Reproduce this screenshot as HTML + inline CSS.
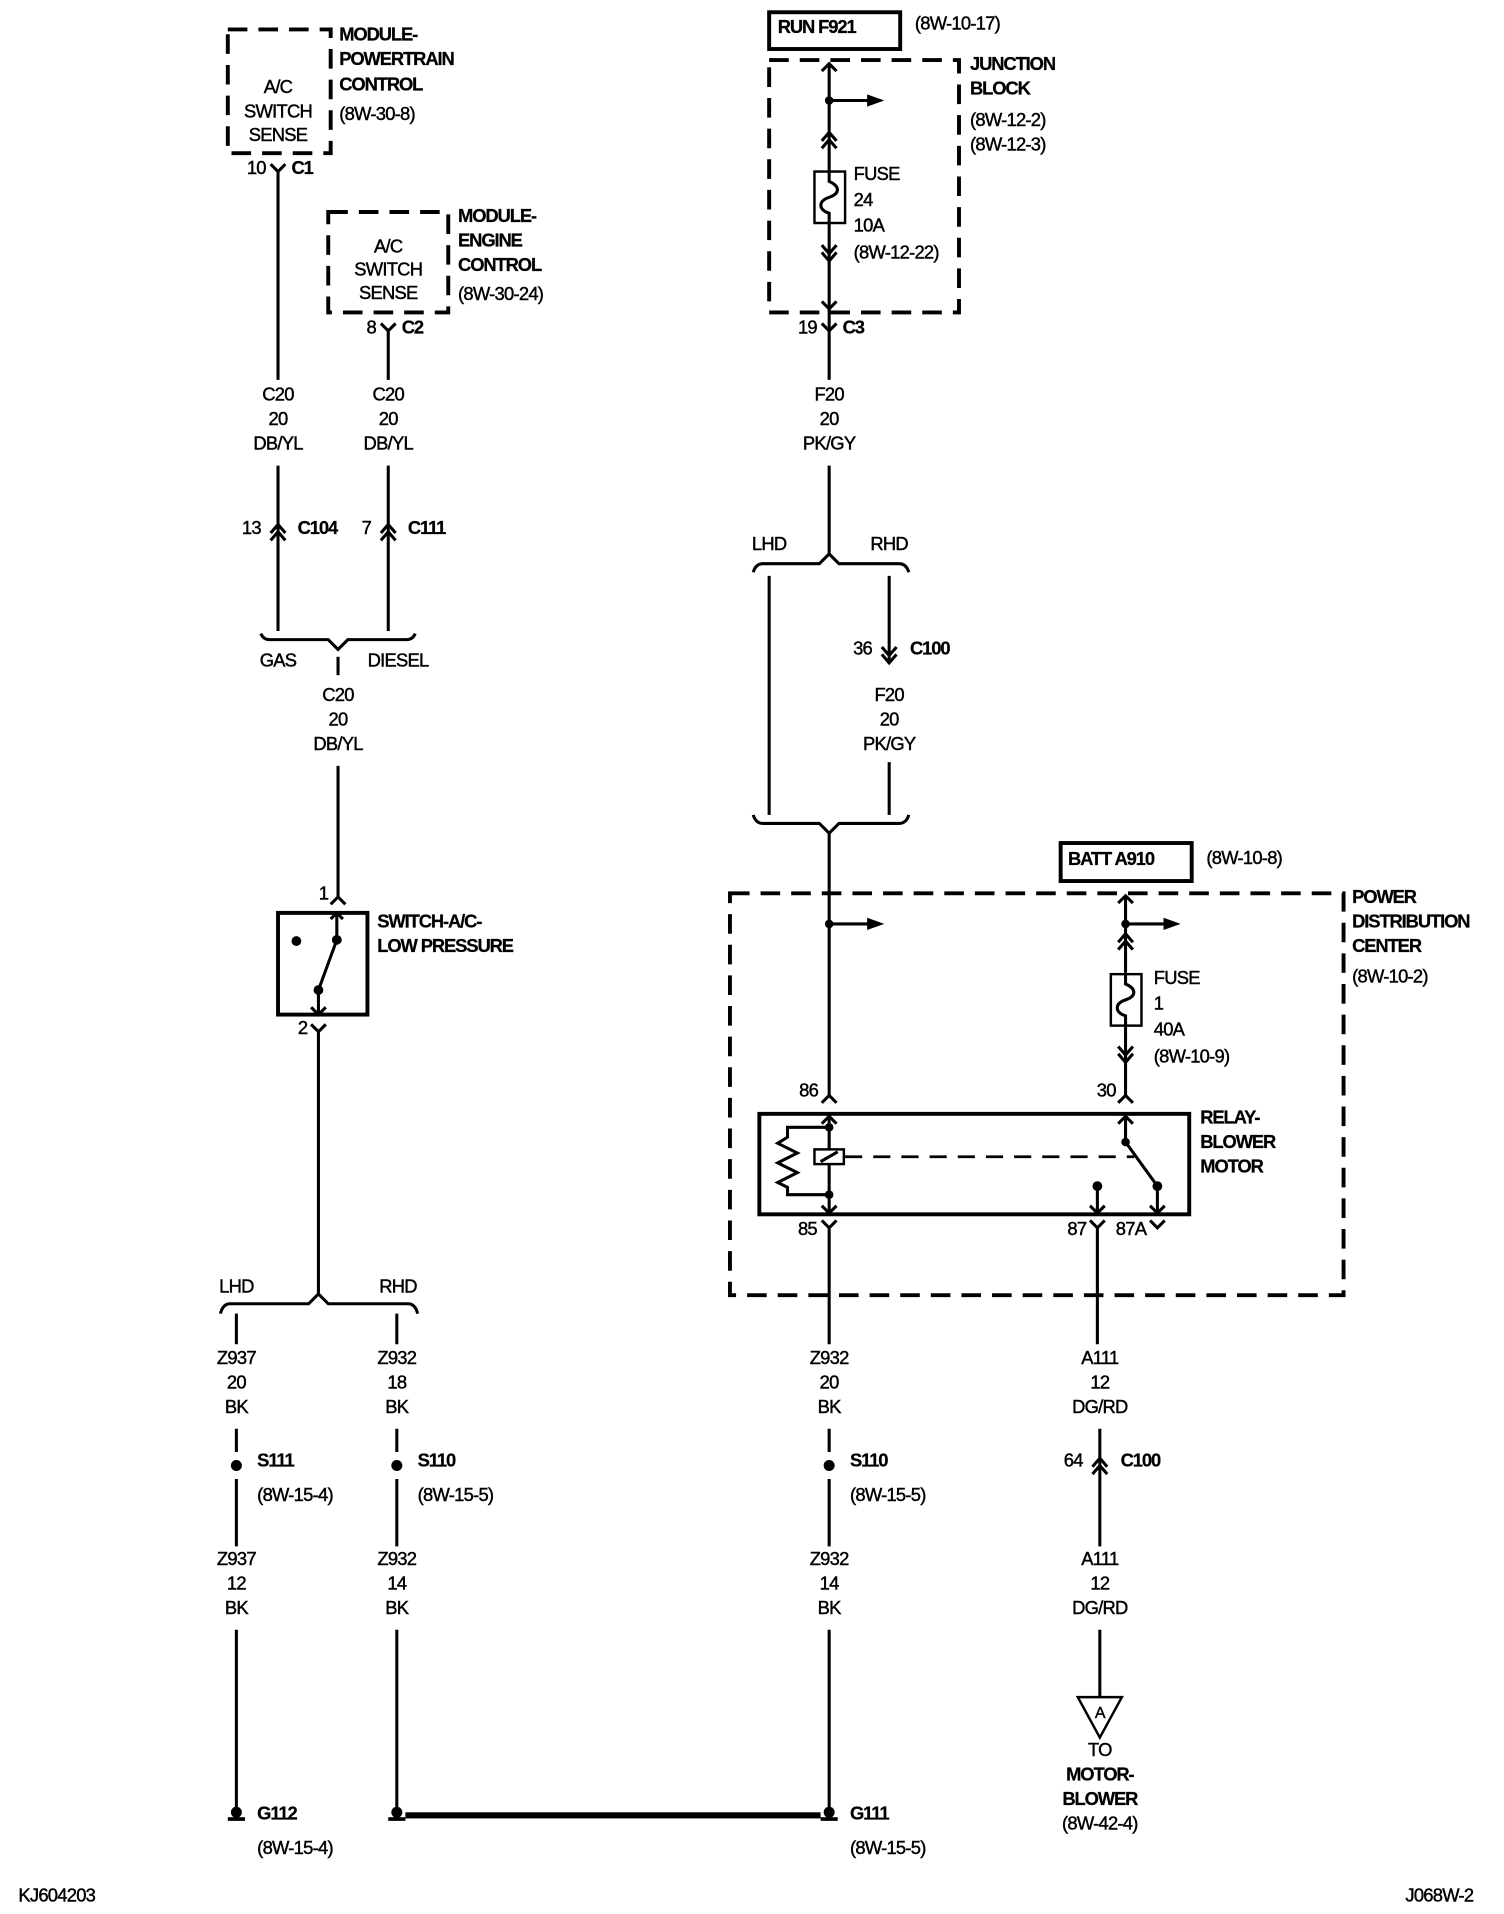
<!DOCTYPE html>
<html><head><meta charset="utf-8"><style>
html,body{margin:0;padding:0;background:#fff;}
svg{display:block;}
text{font-family:"Liberation Sans Narrow","Liberation Sans",sans-serif;font-size:15px;fill:#000;letter-spacing:-0.6px;stroke:#000;stroke-width:0.35px;transform:translate(0px,-4px);}
.b{font-weight:bold;letter-spacing:-0.9px;stroke-width:0.2px;}
.c{text-anchor:middle;}
.e{text-anchor:end;}
.w{stroke:#000;stroke-width:2.5;fill:none;}
.bx{stroke:#000;stroke-width:3.2;fill:none;}
.d{stroke:#000;stroke-width:3.2;fill:none;stroke-dasharray:16 9;}
.dl{stroke:#000;stroke-width:2.2;fill:none;stroke-dasharray:14 9;}
</style></head><body>
<svg width="1504" height="1914" viewBox="0 0 1228 1562" preserveAspectRatio="none" xmlns="http://www.w3.org/2000/svg">
<rect x="0" y="0" width="1228" height="1562" fill="#fff"/>

<!-- PCM -->
<rect class="d" x="186" y="24" width="84" height="101"/>
<text class="c" x="227" y="80">A/C</text>
<text class="c" x="227" y="100">SWITCH</text>
<text class="c" x="227" y="119">SENSE</text>
<text class="b" x="277" y="37">MODULE-</text>
<text class="b" x="277" y="57">POWERTRAIN</text>
<text class="b" x="277" y="78">CONTROL</text>
<text x="277" y="102">(8W-30-8)</text>
<path class="w" d="M221 134 L227 140 L233 134 M227 140 L227 310"/>
<text class="e" x="217" y="146">10</text><text class="b" x="238" y="146">C1</text>

<!-- ECM -->
<rect class="d" x="268" y="173" width="98" height="82"/>
<text class="c" x="317" y="210">A/C</text>
<text class="c" x="317" y="229">SWITCH</text>
<text class="c" x="317" y="248">SENSE</text>
<text class="b" x="374" y="185">MODULE-</text>
<text class="b" x="374" y="205">ENGINE</text>
<text class="b" x="374" y="225">CONTROL</text>
<text x="374" y="249">(8W-30-24)</text>
<path class="w" d="M311 264 L317 270 L323 264 M317 270 L317 310"/>
<text class="e" x="307" y="276">8</text><text class="b" x="328" y="276">C2</text>

<text class="c" x="227" y="331">C20</text><text class="c" x="227" y="351">20</text><text class="c" x="227" y="371">DB/YL</text>
<text class="c" x="317" y="331">C20</text><text class="c" x="317" y="351">20</text><text class="c" x="317" y="371">DB/YL</text>
<path class="w" d="M227 380 L227 515 M317 380 L317 515"/>
<path class="w" d="M221 435 L227 428 L233 435 M221 441 L227 434 L233 441"/>
<path class="w" d="M311 435 L317 428 L323 435 M311 441 L317 434 L323 441"/>
<text class="e" x="213" y="440">13</text><text class="b" x="243" y="440">C104</text>
<text class="e" x="303" y="440">7</text><text class="b" x="333" y="440">C111</text>
<path class="w" d="M213 517 Q215 522 220 522 L268 522 L276 530 L284 522 L332 522 Q337 522 339 517"/>
<text class="c" x="227" y="548">GAS</text><text class="c" x="325" y="548">DIESEL</text>
<path class="w" d="M276 536 L276 551"/>
<text class="c" x="276" y="576">C20</text><text class="c" x="276" y="596">20</text><text class="c" x="276" y="616">DB/YL</text>
<path class="w" d="M276 625 L276 732 M270 738 L276 732 L282 738"/>
<text class="e" x="268" y="738">1</text>

<!-- switch -->
<rect class="bx" x="227" y="745" width="73" height="83"/>
<path class="w" d="M275 745 L275 767 L260 808 L260 828 M270 750 L275 745 L280 750 M254 822 L260 828 L266 822"/>
<circle cx="242" cy="768" r="4" fill="#000"/><circle cx="275" cy="767" r="4" fill="#000"/><circle cx="260" cy="808" r="4" fill="#000"/>
<text class="b" x="308" y="761">SWITCH-A/C-</text>
<text class="b" x="308" y="781">LOW PRESSURE</text>
<path class="w" d="M254 836 L260 842 L266 836 M260 842 L260 1056"/>
<text class="e" x="251" y="848">2</text>

<!-- bottom left bracket -->
<text class="c" x="193" y="1059">LHD</text><text class="c" x="325" y="1059">RHD</text>
<path class="w" d="M180 1072 Q182 1064 188 1064 L252 1064 L260 1056 L268 1064 L333 1064 Q339 1064 341 1072"/>
<path class="w" d="M193 1072 L193 1097 M324 1072 L324 1097 M193 1166 L193 1185 M324 1166 L324 1185 M193 1207 L193 1262 M324 1207 L324 1262 M193 1330 L193 1478 M324 1330 L324 1478"/>
<text class="c" x="193" y="1117">Z937</text><text class="c" x="193" y="1137">20</text><text class="c" x="193" y="1157">BK</text>
<text class="c" x="324" y="1117">Z932</text><text class="c" x="324" y="1137">18</text><text class="c" x="324" y="1157">BK</text>
<circle cx="193" cy="1196" r="4.5" fill="#000"/><circle cx="324" cy="1196" r="4.5" fill="#000"/>
<text class="b" x="210" y="1201">S111</text><text x="210" y="1229">(8W-15-4)</text>
<text class="b" x="341" y="1201">S110</text><text x="341" y="1229">(8W-15-5)</text>
<text class="c" x="193" y="1281">Z937</text><text class="c" x="193" y="1301">12</text><text class="c" x="193" y="1321">BK</text>
<text class="c" x="324" y="1281">Z932</text><text class="c" x="324" y="1301">14</text><text class="c" x="324" y="1321">BK</text>
<circle cx="193" cy="1479" r="4.5" fill="#000"/><rect x="186" y="1483" width="14" height="3" fill="#000"/>
<circle cx="324" cy="1479" r="4.5" fill="#000"/><rect x="317" y="1483" width="14" height="3" fill="#000"/>
<circle cx="677" cy="1479" r="4.5" fill="#000"/><rect x="670" y="1483" width="14" height="3" fill="#000"/>
<rect x="331" y="1479" width="339" height="5" fill="#000"/>
<text class="b" x="210" y="1489">G112</text><text x="210" y="1517">(8W-15-4)</text>
<text class="b" x="694" y="1489">G111</text><text x="694" y="1517">(8W-15-5)</text>

<!-- RUN / junction block -->
<rect class="bx" x="628" y="10" width="107" height="30"/>
<text class="b" x="635" y="31">RUN F921</text>
<text x="747" y="28">(8W-10-17)</text>
<rect class="d" x="628" y="49" width="155" height="206"/>
<text class="b" x="792" y="61">JUNCTION</text><text class="b" x="792" y="81">BLOCK</text>
<text x="792" y="107">(8W-12-2)</text><text x="792" y="127">(8W-12-3)</text>
<path class="w" d="M677 52 L677 140 M671 58 L677 52 L683 58 M677 82 L710 82 M671 115 L677 108 L683 115 M671 121 L677 114 L683 121"/>
<circle cx="677" cy="82" r="3.5" fill="#000"/><path d="M708 77 L722 82 L708 87 Z" fill="#000"/>
<rect x="665" y="140" width="25" height="42" fill="none" stroke="#000" stroke-width="2"/>
<path class="w" d="M677 140 L677 148 C686 152 686 158 677 161 C668 164 668 171 677 174 L677 182 L677 270"/>
<path class="w" d="M671 200 L677 207 L683 200 M671 206 L677 213 L683 206 M671 246 L677 252 L683 246 M671 264 L677 270 L683 264"/>
<text x="697" y="151">FUSE</text><text x="697" y="172">24</text><text x="697" y="193">10A</text><text x="697" y="215">(8W-12-22)</text>
<text class="e" x="667" y="276">19</text><text class="b" x="688" y="276">C3</text>
<path class="w" d="M677 270 L677 310"/>
<text class="c" x="677" y="331">F20</text><text class="c" x="677" y="351">20</text><text class="c" x="677" y="371">PK/GY</text>
<path class="w" d="M677 380 L677 452"/>
<text class="c" x="628" y="453">LHD</text><text class="c" x="726" y="453">RHD</text>
<path class="w" d="M615 467 Q617 460 623 460 L669 460 L677 452 L685 460 L734 460 Q740 460 742 467"/>
<path class="w" d="M628 470 L628 665 M726 470 L726 541 M726 622 L726 665"/>
<path class="w" d="M720 528 L726 535 L732 528 M720 534 L726 541 L732 534"/>
<text class="e" x="712" y="538">36</text><text class="b" x="743" y="538">C100</text>
<text class="c" x="726" y="576">F20</text><text class="c" x="726" y="596">20</text><text class="c" x="726" y="616">PK/GY</text>
<path class="w" d="M615 665 Q617 672 623 672 L669 672 L677 680 L685 672 L734 672 Q740 672 742 665"/>
<path class="w" d="M677 680 L677 894 M671 900 L677 894 L683 900 M677 754 L710 754"/>
<circle cx="677" cy="754" r="3.5" fill="#000"/><path d="M708 749 L722 754 L708 759 Z" fill="#000"/>

<!-- PDC -->
<rect class="bx" x="866" y="688" width="107" height="31"/>
<text class="b" x="872" y="710">BATT A910</text>
<text x="985" y="709">(8W-10-8)</text>
<rect class="d" x="596" y="729" width="501" height="328"/>
<text class="b" x="1104" y="741">POWER</text><text class="b" x="1104" y="761">DISTRIBUTION</text><text class="b" x="1104" y="781">CENTER</text>
<text x="1104" y="806">(8W-10-2)</text>
<path class="w" d="M919 731 L919 794 M913 737 L919 731 L925 737 M919 754 L952 754 M913 769 L919 762 L925 769 M913 775 L919 768 L925 775"/>
<circle cx="919" cy="754" r="3.5" fill="#000"/><path d="M950 749 L964 754 L950 759 Z" fill="#000"/>
<rect x="907" y="795" width="25" height="42" fill="none" stroke="#000" stroke-width="2"/>
<path class="w" d="M919 795 L919 803 C928 807 928 813 919 816 C910 819 910 826 919 829 L919 837 L919 894"/>
<path class="w" d="M913 854 L919 861 L925 854 M913 860 L919 867 L925 860 M913 900 L919 894 L925 900"/>
<text x="942" y="807">FUSE</text><text x="942" y="828">1</text><text x="942" y="849">40A</text><text x="942" y="871">(8W-10-9)</text>
<text class="e" x="668" y="899">86</text><text class="e" x="911" y="899">30</text>

<!-- relay -->
<rect class="bx" x="620" y="909" width="351" height="82"/>
<text class="b" x="980" y="921">RELAY-</text><text class="b" x="980" y="941">BLOWER</text><text class="b" x="980" y="961">MOTOR</text>
<path class="w" d="M677 911 L677 990 M671 917 L677 911 L683 917 M671 984 L677 990 L683 984"/>
<path class="w" d="M677 920 L643 920 L643 928 L635 933 L651 941 L635 949 L651 957 L635 965 L643 969 L643 975 L677 975"/>
<circle cx="677" cy="920" r="3.5" fill="#000"/><circle cx="677" cy="975" r="3.5" fill="#000"/>
<rect x="665" y="938" width="24" height="12" fill="#fff" stroke="#000" stroke-width="2"/>
<path class="w" d="M670 948 L684 940"/>
<path class="dl" d="M690 944 L926 944"/>
<path class="w" d="M919 911 L919 932 L945 968 M913 917 L919 911 L925 917 M896 968 L896 990 M945 968 L945 990 M890 984 L896 990 L902 984 M939 984 L945 990 L951 984"/>
<circle cx="919" cy="932" r="3.5" fill="#000"/><circle cx="896" cy="968" r="4" fill="#000"/><circle cx="945" cy="968" r="4" fill="#000"/>
<path class="w" d="M671 996 L677 1002 L683 996 M677 1002 L677 1097 M890 996 L896 1002 L902 996 M896 1002 L896 1097 M939 996 L945 1002 L951 996"/>
<text class="e" x="667" y="1012">85</text><text class="e" x="887" y="1012">87</text><text x="911" y="1012">87A</text>

<text class="c" x="677" y="1117">Z932</text><text class="c" x="677" y="1137">20</text><text class="c" x="677" y="1157">BK</text>
<path class="w" d="M677 1166 L677 1185 M677 1207 L677 1262 M677 1330 L677 1478"/>
<circle cx="677" cy="1196" r="4.5" fill="#000"/>
<text class="b" x="694" y="1201">S110</text><text x="694" y="1229">(8W-15-5)</text>
<text class="c" x="677" y="1281">Z932</text><text class="c" x="677" y="1301">14</text><text class="c" x="677" y="1321">BK</text>

<text class="c" x="898" y="1117">A111</text><text class="c" x="898" y="1137">12</text><text class="c" x="898" y="1157">DG/RD</text>
<path class="w" d="M898 1166 L898 1262 M892 1197 L898 1190 L904 1197 M892 1203 L898 1196 L904 1203 M898 1330 L898 1385"/>
<text class="e" x="884" y="1201">64</text><text class="b" x="915" y="1201">C100</text>
<text class="c" x="898" y="1281">A111</text><text class="c" x="898" y="1301">12</text><text class="c" x="898" y="1321">DG/RD</text>
<path d="M880 1385 L916 1385 L898 1418 Z" fill="#fff" stroke="#000" stroke-width="2"/>
<text class="c" x="898" y="1406" style="font-size:13px">A</text>
<text class="c" x="898" y="1437">TO</text>
<text class="c b" x="898" y="1457">MOTOR-</text><text class="c b" x="898" y="1477">BLOWER</text>
<text class="c" x="898" y="1497">(8W-42-4)</text>

<text x="15" y="1556">KJ604203</text>
<text class="e" x="1203" y="1556">J068W-2</text>
</svg>
</body></html>
